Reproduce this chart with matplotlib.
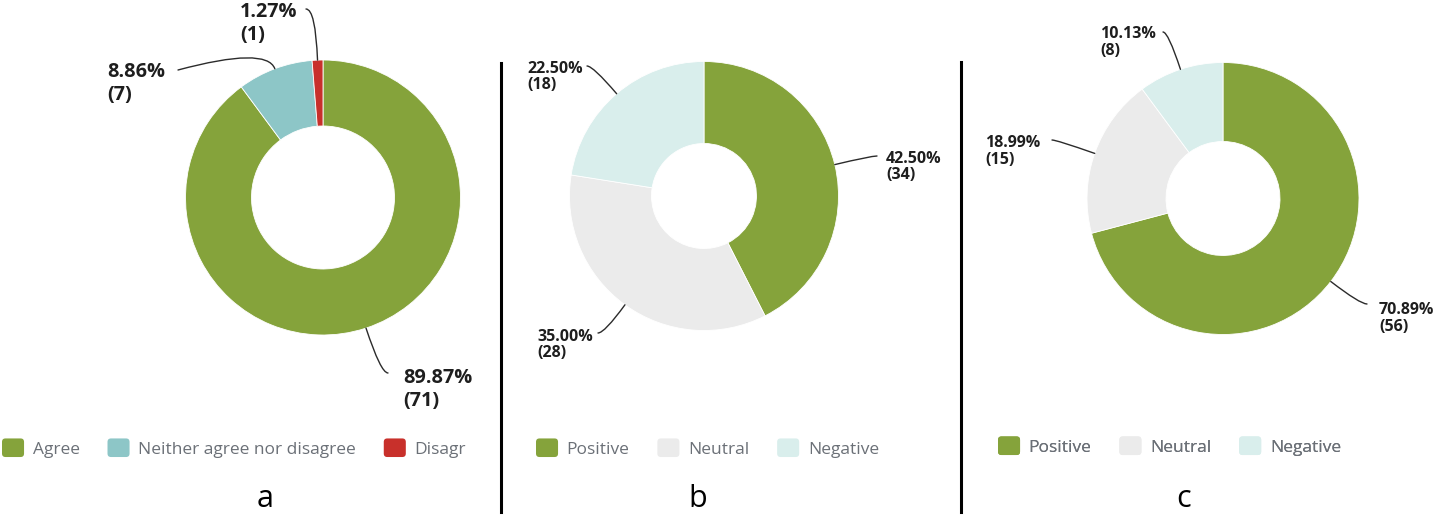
import matplotlib
matplotlib.use("Agg")
import numpy as np
import matplotlib.pyplot as plt
from matplotlib.patches import Wedge, FancyBboxPatch
from matplotlib.legend_handler import HandlerPatch

# data
a_labels = ["Agree", "Neither agree nor disagree", "Disagr"]
a_pct = [89.87, 8.86, 1.27]
a_count = [71, 7, 1]

b_labels = ["Positive", "Neutral", "Negative"]
b_pct = [42.50, 35.00, 22.50]
b_count = [34, 28, 18]

c_labels = ["Positive", "Neutral", "Negative"]
c_pct = [70.89, 18.99, 10.13]
c_count = [56, 15, 8]

GREEN = "#85a33b"
TEAL = "#8dc6c7"
RED = "#c8302b"
GRAY = "#ebebeb"
LTEAL = "#d9eeec"

W, H = 1440, 516
plt.rcParams["font.family"] = ["Open Sans", "DejaVu Sans"]

fig = plt.figure(figsize=(W / 100, H / 100), dpi=100)
ax = fig.add_axes([0, 0, 1, 1])


class RoundHandler(HandlerPatch):
    def create_artists(self, legend, orig_handle, xdescent, ydescent,
                       width, height, fontsize, trans):
        p = FancyBboxPatch((-xdescent, -ydescent), width, height,
                           boxstyle="round,pad=0,rounding_size=2.5",
                           fc=orig_handle.get_facecolor(), ec="none",
                           transform=trans)
        return [p]


# panel layout, in image pixels (y from the top)
panels = [
    dict(labels=a_labels, pct=a_pct, count=a_count, colors=[GREEN, TEAL, RED],
         center=(323, 197.5), r=137.5, rin=71.5, fs=14.3, gap=23,
         text=[(403, 383), (107, 77), (240, 17)],
         ends=[(388, 373), (178, 70), (306, 9)], angA=[0, 15, 0],
         legend=(2, 448), letter=("a", 265)),
    dict(labels=b_labels, pct=b_pct, count=b_count, colors=[GREEN, GRAY, LTEAL],
         center=(704, 196), r=134.5, rin=52.5, fs=11.5, gap=16,
         text=[(886, 163), (537, 341), (527, 73)],
         ends=[(877, 156), (598, 333), (587, 66)], angA=[0, 0, 0],
         legend=(536, 448), letter=("b", 698)),
    dict(labels=c_labels, pct=c_pct, count=c_count, colors=[GREEN, GRAY, LTEAL],
         center=(1223, 198.5), r=136, rin=57, fs=11.5, gap=17,
         text=[(1379, 314), (985, 147), (1100, 38)],
         ends=[(1367, 304), (1052, 140), (1163, 32)], angA=[0, 0, 0],
         legend=(998, 446), letter=("c", 1184)),
]

for p in panels:
    cx, cy = p["center"]
    wedges, _ = ax.pie(p["count"], colors=p["colors"], startangle=90,
                       counterclock=False, radius=p["r"], center=(cx, H - cy),
                       wedgeprops=dict(width=p["r"] - p["rin"], edgecolor="white",
                                       linewidth=0.6))
    for w, pc, n, (tx, ty), (ex, ey), aA in zip(wedges, p["pct"], p["count"],
                                                 p["text"], p["ends"], p["angA"]):
        mid = (w.theta1 + w.theta2) / 2
        px = w.center[0] + w.r * np.cos(np.radians(mid))
        py = w.center[1] + w.r * np.sin(np.radians(mid))
        ax.annotate("", xy=(px, py), xytext=(ex, H - ey),
                    arrowprops=dict(arrowstyle="-", color="#2b2b2b", lw=1.0,
                                    shrinkA=0, shrinkB=0,
                                    connectionstyle=f"angle3,angleA={aA},angleB={mid}"))
        ax.text(tx, H - ty, f"{pc:.2f}%", fontsize=p["fs"], fontweight="bold",
                color="#1e1e1e", ha="left", va="baseline")
        ax.text(tx, H - ty - p["gap"], f"({n})", fontsize=p["fs"], fontweight="bold",
                color="#1e1e1e", ha="left", va="baseline")

    lx, ly = p["legend"]
    leg = ax.legend(wedges, p["labels"], loc="center left",
                    bbox_to_anchor=(lx, H - ly), bbox_transform=ax.transData,
                    ncol=3, frameon=False, fontsize=12.5, labelcolor="#6b7077",
                    handlelength=1.27, handleheight=1.27, handletextpad=0.5,
                    columnspacing=1.6, borderpad=0, borderaxespad=0,
                    handler_map={Wedge: RoundHandler()})
    ax.add_artist(leg)

    letter, lx2 = p["letter"]
    ax.text(lx2, H - 507, letter, fontsize=22, color="black", ha="center",
            va="baseline")

# divider lines
ax.plot([501, 501], [H - 63, H - 512], color="black", lw=2.2)
ax.plot([961, 961], [H - 62, H - 512], color="black", lw=2.2)

ax.set_xlim(0, W)
ax.set_ylim(0, H)
ax.set_aspect("equal")
ax.axis("off")

fig.savefig("out.png", dpi=100)
